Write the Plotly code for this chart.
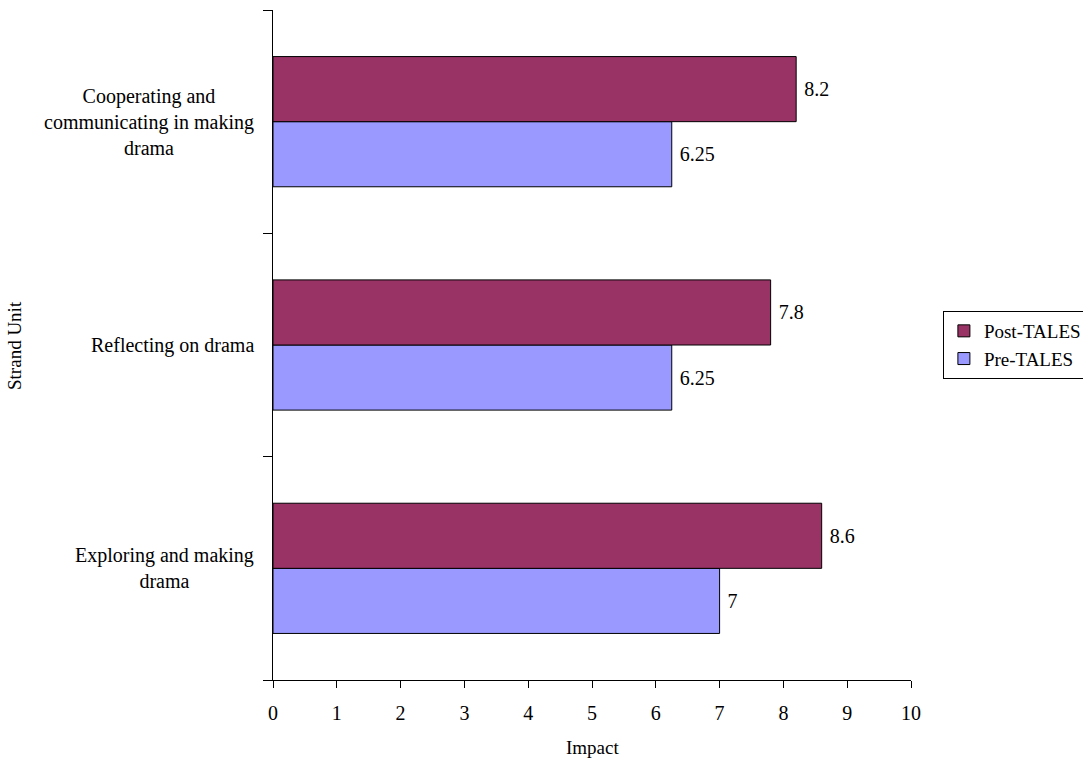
import plotly.graph_objects as go

# Strand units, listed bottom to top as drawn on the category axis
strands = ["Exploring and making drama", "Reflecting on drama",
           "Cooperating and communicating in making drama"]
strand_labels = ["Exploring and making<br>drama", "Reflecting on drama",
                 "Cooperating and<br>communicating in making<br>drama"]
pre_tales = [7, 6.25, 6.25]
post_tales = [8.6, 7.8, 8.2]
x_ticks = list(range(0, 11))

FONT = "Liberation Serif, Times New Roman, serif"
SIZE = 20

fig = go.Figure()
for name, vals, colour in [("Pre-TALES", pre_tales, "#9999FF"),
                           ("Post-TALES", post_tales, "#993366")]:
    fig.add_trace(go.Bar(
        y=strands, x=vals, orientation="h", name=name,
        marker=dict(color=colour, line=dict(color="black", width=1)),
        text=[f"\u00a0{v:g}" for v in vals], textposition="outside",
        textfont=dict(family=FONT, size=SIZE, color="black"), cliponaxis=False,
    ))

# Category labels: block right-aligned near the axis, lines centred in it
annotations = []
for cat, lab in zip(strands, strand_labels):
    annotations.append(dict(
        x=-0.026, xref="paper", y=cat, yref="y", text=lab, showarrow=False,
        xanchor="right", yanchor="middle", align="center",
        font=dict(family=FONT, size=SIZE, color="black"),
    ))
annotations.append(dict(
    x=-0.406, xref="paper", y=0.5, yref="paper", text="Strand Unit",
    textangle=-90, showarrow=False, xanchor="center", yanchor="middle",
    font=dict(family=FONT, size=SIZE - 1, color="black"),
))
annotations.append(dict(
    x=0.5, xref="paper", y=-0.101, yref="paper", text="Impact",
    showarrow=False, xanchor="center", yanchor="middle",
    font=dict(family=FONT, size=SIZE - 1, color="black"),
))

fig.update_layout(
    width=1083, height=761,
    margin=dict(l=273, r=172, t=10, b=81, autoexpand=False),
    paper_bgcolor="white", plot_bgcolor="white",
    barmode="group", bargap=0.417, bargroupgap=0,
    font=dict(family=FONT, size=SIZE, color="black"),
    xaxis=dict(
        range=[0, 10], tickvals=x_ticks, showgrid=False, zeroline=False,
        showline=True, linecolor="black", linewidth=1,
        ticks="outside", ticklen=7, tickcolor="black",
        ticklabelstandoff=8,
        tickfont=dict(family=FONT, size=SIZE),
    ),
    yaxis=dict(
        categoryorder="array", categoryarray=strands,
        showticklabels=False, showgrid=False, zeroline=False,
        showline=True, linecolor="black", linewidth=1,
        ticks="outside", ticklen=9, tickcolor="black", tickson="boundaries",
    ),
    legend=dict(
        x=1.05, xanchor="left", y=0.5, yanchor="middle",
        traceorder="reversed", bordercolor="black", borderwidth=1,
        font=dict(family=FONT, size=19), tracegroupgap=0,
        itemwidth=30,
    ),
    annotations=annotations,
)

fig.write_html("out.html")
